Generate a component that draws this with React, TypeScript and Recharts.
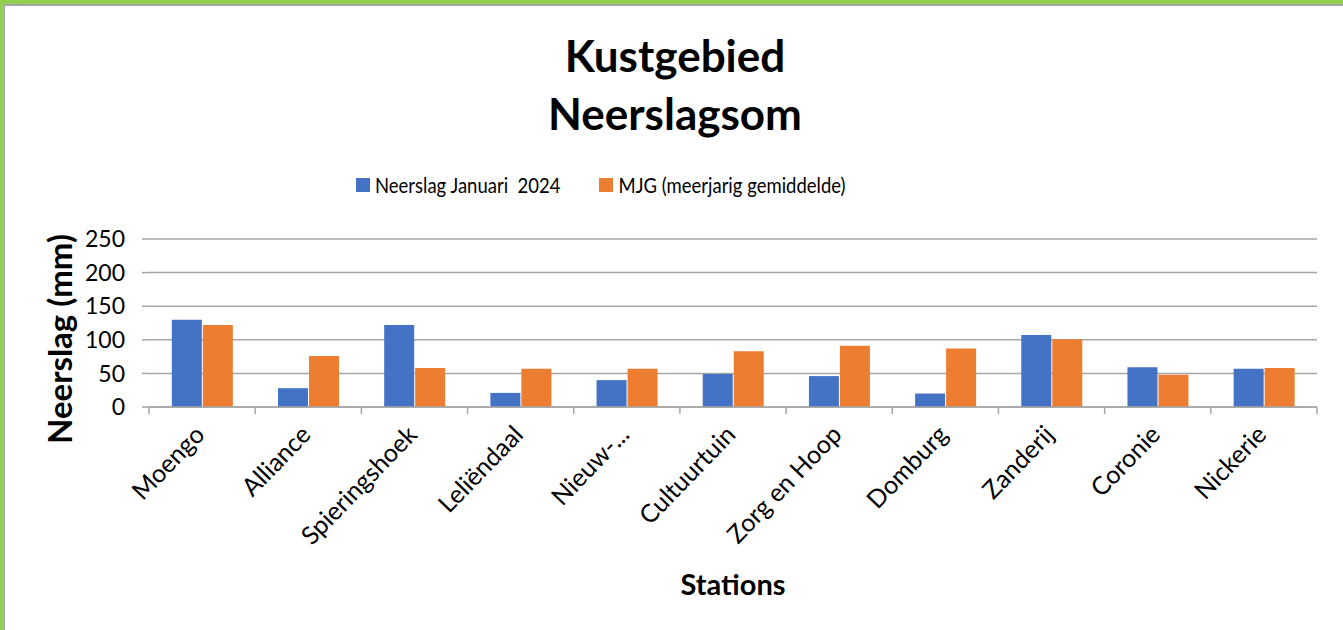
import { BarChart, Bar, XAxis, YAxis, CartesianGrid } from "recharts";

const stations = [
  "Moengo",
  "Alliance",
  "Spieringshoek",
  "Leliëndaal",
  "Nieuw-...",
  "Cultuurtuin",
  "Zorg en Hoop",
  "Domburg",
  "Zanderij",
  "Coronie",
  "Nickerie",
];
const neerslagJan2024 = [130, 28, 122, 21, 40, 49, 46, 20, 107, 59, 57];
const mjg = [122, 76, 58, 57, 57, 83, 91, 87, 101, 48, 58];
const yTicks = [0, 50, 100, 150, 200, 250];

const series = [
  { key: "jan", name: "Neerslag Januari  2024", color: "#4472C4" },
  { key: "mjg", name: "MJG (meerjarig gemiddelde)", color: "#ED7D31" },
];

const data = stations.map((s, i) => ({
  station: s,
  jan: neerslagJan2024[i],
  mjg: mjg[i],
}));

const W = 1343;
const H = 630;
const FONT = "Lato, 'Open Sans', sans-serif";
const margin = { top: 239, right: 26, bottom: 0, left: 49 };
const Y_AXIS_W = 100;
const band = (W - margin.left - margin.right - Y_AXIS_W) / stations.length;
const GRID = "#A6A6A6";

// Excel-style: tick marks sit between categories, labels rotated under the centre
function StationTick(props: any) {
  const { x, y, payload, index } = props;
  const half = band / 2;
  const tx = x + 4;
  const ty = y + 29;
  return (
    <g>
      <line x1={x - half} y1={y} x2={x - half} y2={y + 7} stroke={GRID} strokeWidth={1.5} />
      {index === stations.length - 1 && (
        <line x1={x + half} y1={y} x2={x + half} y2={y + 7} stroke={GRID} strokeWidth={1.5} />
      )}
      <text
        x={tx}
        y={ty}
        textAnchor="end"
        transform={`rotate(-46, ${tx}, ${ty})`}
        fontSize={25}
        fontFamily={FONT}
        fill="#000"
      >
        {payload.value}
      </text>
    </g>
  );
}

export default function App() {
  return (
    <div style={{ position: "absolute", left: 0, top: 0, width: W, height: H, background: "#fff", overflow: "hidden" }}>
      <div style={{ position: "absolute", left: 0, top: 0, width: W, height: 4, background: "#92D050" }} />
      <div style={{ position: "absolute", left: 4, top: 4, width: W, height: 2, background: "#A9A4AA" }} />
      <div style={{ position: "absolute", left: 0, top: 0, width: 4, height: H, background: "#92D050" }} />
      <div style={{ position: "absolute", left: 4, top: 4, width: 1, height: H, background: "#A9A4AA" }} />

      <div
        style={{
          position: "absolute",
          left: 0,
          top: 26,
          width: 1350,
          textAlign: "center",
          fontFamily: FONT,
          fontWeight: 700,
          fontSize: 44,
          lineHeight: "58px",
          color: "#000",
        }}
      >
        Kustgebied
        <br />
        Neerslagsom
      </div>

      <div
        style={{
          position: "absolute",
          left: 356,
          top: 172,
          height: 26,
          display: "flex",
          alignItems: "center",
          fontFamily: FONT,
        }}
      >
        {series.map((s) => (
          <div key={s.key} style={{ display: "flex", alignItems: "center", marginRight: 39 }}>
            <span style={{ width: 14, height: 14, background: s.color, display: "inline-block", marginRight: 5 }} />
            <span
              style={{
                fontSize: 18.5,
                color: "#000",
                whiteSpace: "pre",
                display: "inline-block",
                transform: "scaleY(1.13)",
              }}
            >
              {s.name}
            </span>
          </div>
        ))}
      </div>

      <div
        style={{
          position: "absolute",
          left: 59,
          top: 339,
          transform: "translate(-50%, -50%) rotate(-90deg)",
          fontFamily: FONT,
          fontWeight: 700,
          fontSize: 33,
          whiteSpace: "nowrap",
          color: "#000",
        }}
      >
        Neerslag (mm)
      </div>

      <div
        style={{
          position: "absolute",
          left: 733,
          top: 583,
          transform: "translate(-50%, -50%)",
          fontFamily: FONT,
          fontWeight: 700,
          fontSize: 29,
          whiteSpace: "nowrap",
          color: "#000",
        }}
      >
        Stations
      </div>

      <div style={{ position: "absolute", left: 0, top: 0 }}>
        <BarChart width={W} height={H} data={data} margin={margin} barCategoryGap="21.5%" barGap={1}>
          <CartesianGrid vertical={false} stroke={GRID} strokeWidth={1.5} />
          <XAxis
            dataKey="station"
            interval={0}
            height={H - 407}
            tickLine={false}
            tickSize={0}
            tickMargin={0}
            axisLine={{ stroke: GRID, strokeWidth: 1.5 }}
            tick={<StationTick />}
          />
          <YAxis
            width={Y_AXIS_W}
            domain={[0, 250]}
            ticks={yTicks}
            interval={0}
            axisLine={false}
            tickSize={7}
            tickMargin={17}
            tickLine={{ stroke: GRID, strokeWidth: 1.5 }}
            tick={{ fontSize: 23, fill: "#000", fontFamily: FONT }}
          />
          {series.map((s) => (
            <Bar key={s.key} dataKey={s.key} name={s.name} fill={s.color} isAnimationActive={false} />
          ))}
        </BarChart>
      </div>
    </div>
  );
}
